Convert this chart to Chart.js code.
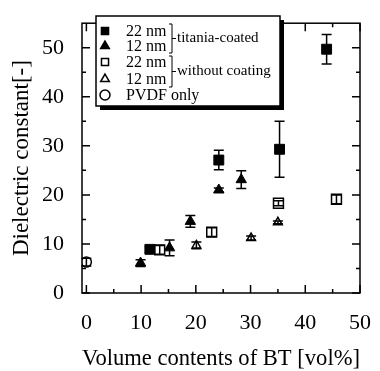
<!DOCTYPE html>
<html>
<head>
<meta charset="utf-8">
<script src="https://cdn.jsdelivr.net/npm/chart.js@4.4.0/dist/chart.umd.min.js"></script>
<style>
  html, body { margin: 0; padding: 0; background: #fff; }
</style>
</head>
<body>
<canvas id="scatter" width="380" height="371"></canvas>
<script>
// titania-coated, 22 nm
var coated22X = [11.6, 24.2, 35.3, 43.9];
var coated22Y = [8.9, 27.1, 29.3, 49.7];
var coated22Err = [0.6, 2.0, 5.7, 3.0];
// titania-coated, 12 nm
var coated12X = [9.9, 15.2, 19.0, 24.2, 28.3];
var coated12Y = [6.1, 9.2, 14.6, 21.0, 23.1];
var coated12Err = [0.7, 1.6, 1.2, 0.4, 1.8];
// without coating, 22 nm
var bare22X = [13.4, 22.9, 35.1, 45.7];
var bare22Y = [8.8, 12.4, 18.3, 19.1];
var bare22Err = [0.9, 0.9, 0.5, 0.9];
// without coating, 12 nm
var bare12X = [20.1, 30.1, 35.0];
var bare12Y = [9.7, 11.2, 14.4];
var bare12Err = [0.7, 0.4, 0.3];
// PVDF only
var pvdfX = [0];
var pvdfY = [6.3];
var pvdfErr = [0.8];

var xTicks = [0, 10, 20, 30, 40, 50];
var yTicks = [0, 10, 20, 30, 40, 50];

function pts(xs, ys, errs) {
    return xs.map(function (x, i) { return { x: x, y: ys[i], err: errs[i] }; });
}

var serif = "'Liberation Serif', 'Times New Roman', serif";

// error bars, frame and inward ticks, legend box
var extras = {
    id: 'extras',
    afterDatasetsDraw: function (chart) {
        var ctx = chart.ctx;
        var xs = chart.scales.x, ys = chart.scales.y;
        ctx.save();
        ctx.strokeStyle = '#000';
        ctx.lineWidth = 1.5;
        chart.data.datasets.forEach(function (ds) {
            ds.data.forEach(function (p) {
                if (!p.err) return;
                var px = xs.getPixelForValue(p.x);
                var top = ys.getPixelForValue(p.y + p.err);
                var bot = ys.getPixelForValue(p.y - p.err);
                ctx.beginPath();
                ctx.moveTo(px, top); ctx.lineTo(px, bot);
                ctx.moveTo(px - 5, top); ctx.lineTo(px + 5, top);
                ctx.moveTo(px - 5, bot); ctx.lineTo(px + 5, bot);
                ctx.stroke();
            });
        });
        ctx.restore();
    },
    afterDraw: function (chart) {
        var ctx = chart.ctx;
        var a = chart.chartArea;
        var xs = chart.scales.x, ys = chart.scales.y;
        ctx.save();
        ctx.strokeStyle = '#000';
        ctx.lineWidth = 1.5;
        ctx.strokeRect(a.left, a.top, a.right - a.left, a.bottom - a.top);
        ctx.beginPath();
        for (var v = 0; v <= 50; v += 5) {
            var len = v % 10 === 0 ? 8 : 4;
            var px = xs.getPixelForValue(v);
            ctx.moveTo(px, a.bottom); ctx.lineTo(px, a.bottom - len);
            ctx.moveTo(px, a.top); ctx.lineTo(px, a.top + len);
            var py = ys.getPixelForValue(v);
            ctx.moveTo(a.left, py); ctx.lineTo(a.left + len, py);
            ctx.moveTo(a.right, py); ctx.lineTo(a.right - len, py);
        }
        ctx.stroke();

        // legend
        var bx = 96, by = 16, bw = 184, bh = 90;
        ctx.fillStyle = '#000';
        ctx.fillRect(bx + 4, by + 4, bw, bh);
        ctx.fillStyle = '#fff';
        ctx.fillRect(bx, by, bw, bh);
        ctx.strokeRect(bx, by, bw, bh);

        var rows = [31, 46, 62, 79, 95];
        var labels = ['22 nm', '12 nm', '22 nm', '12 nm', 'PVDF only'];
        var ds = chart.data.datasets;
        ctx.font = '16px ' + serif;
        ctx.textBaseline = 'middle';
        ctx.textAlign = 'left';
        rows.forEach(function (ry, i) {
            var d = ds[i];
            ctx.fillStyle = d.pointBackgroundColor;
            ctx.strokeStyle = '#000';
            ctx.lineWidth = 1.5;
            Chart.helpers.drawPoint(ctx, { pointStyle: d.pointStyle, radius: 5, borderWidth: 1.5 }, 105, ry);
            ctx.fillStyle = '#000';
            ctx.fillText(labels[i], 126, ry + 1);
        });

        // brackets
        ctx.lineWidth = 1;
        ctx.strokeStyle = '#000';
        ctx.font = '15px ' + serif;
        [[24, 53, 'titania-coated'], [56, 87, 'without coating']].forEach(function (b) {
            var mid = (b[0] + b[1]) / 2;
            ctx.beginPath();
            ctx.moveTo(169, b[0]); ctx.lineTo(172, b[0]);
            ctx.lineTo(172, b[1]); ctx.lineTo(169, b[1]);
            ctx.moveTo(172, mid); ctx.lineTo(176, mid);
            ctx.stroke();
            ctx.fillText(b[2], 177, mid);
        });
        ctx.restore();
    }
};

var ctx = document.getElementById('scatter').getContext('2d');
var myChart = new Chart(ctx, {
    type: 'scatter',
    data: {
        datasets: [
            { label: '22 nm titania-coated', data: pts(coated22X, coated22Y, coated22Err),
              pointStyle: 'rect', pointRadius: 7, pointBackgroundColor: '#000', pointBorderColor: '#000', pointBorderWidth: 1 },
            { label: '12 nm titania-coated', data: pts(coated12X, coated12Y, coated12Err),
              pointStyle: 'triangle', pointRadius: 6, pointBackgroundColor: '#000', pointBorderColor: '#000', pointBorderWidth: 1 },
            { label: '22 nm without coating', data: pts(bare22X, bare22Y, bare22Err),
              pointStyle: 'rect', pointRadius: 7, pointBackgroundColor: '#fff', pointBorderColor: '#000', pointBorderWidth: 1.5 },
            { label: '12 nm without coating', data: pts(bare12X, bare12Y, bare12Err),
              pointStyle: 'triangle', pointRadius: 5, pointBackgroundColor: '#fff', pointBorderColor: '#000', pointBorderWidth: 1.5 },
            { label: 'PVDF only', data: pts(pvdfX, pvdfY, pvdfErr),
              pointStyle: 'circle', pointRadius: 5, pointBackgroundColor: '#fff', pointBorderColor: '#000', pointBorderWidth: 1.5 }
        ]
    },
    options: {
        responsive: false,
        animation: false,
        layout: { padding: { top: 7, right: 14, left: 0, bottom: 0 } },
        plugins: { legend: { display: false }, tooltip: { enabled: false } },
        scales: {
            x: {
                type: 'linear', min: -0.8, max: 50,
                afterBuildTicks: function (s) { s.ticks = xTicks.map(function (v) { return { value: v }; }); },
                afterFit: function (s) { s.height = 78; },
                grid: { display: false },
                border: { display: false },
                ticks: { color: '#000', padding: 9, maxRotation: 0, font: { family: serif, size: 22 } },
                title: { display: true, text: 'Volume contents of BT [vol%]', color: '#000',
                         padding: { top: 0, bottom: 0 }, font: { family: serif, size: 24, lineHeight: 1 } }
            },
            y: {
                type: 'linear', min: 0, max: 55,
                afterBuildTicks: function (s) { s.ticks = yTicks.map(function (v) { return { value: v }; }); },
                afterFit: function (s) { s.width = 82; },
                grid: { display: false },
                border: { display: false },
                ticks: { color: '#000', padding: 10, font: { family: serif, size: 22 } },
                title: { display: true, text: 'Dielectric constant[-]', color: '#000',
                         padding: { top: 10, bottom: 0 }, font: { family: serif, size: 23, lineHeight: 1 } }
            }
        }
    },
    plugins: [extras]
});
</script>
</body>
</html>
